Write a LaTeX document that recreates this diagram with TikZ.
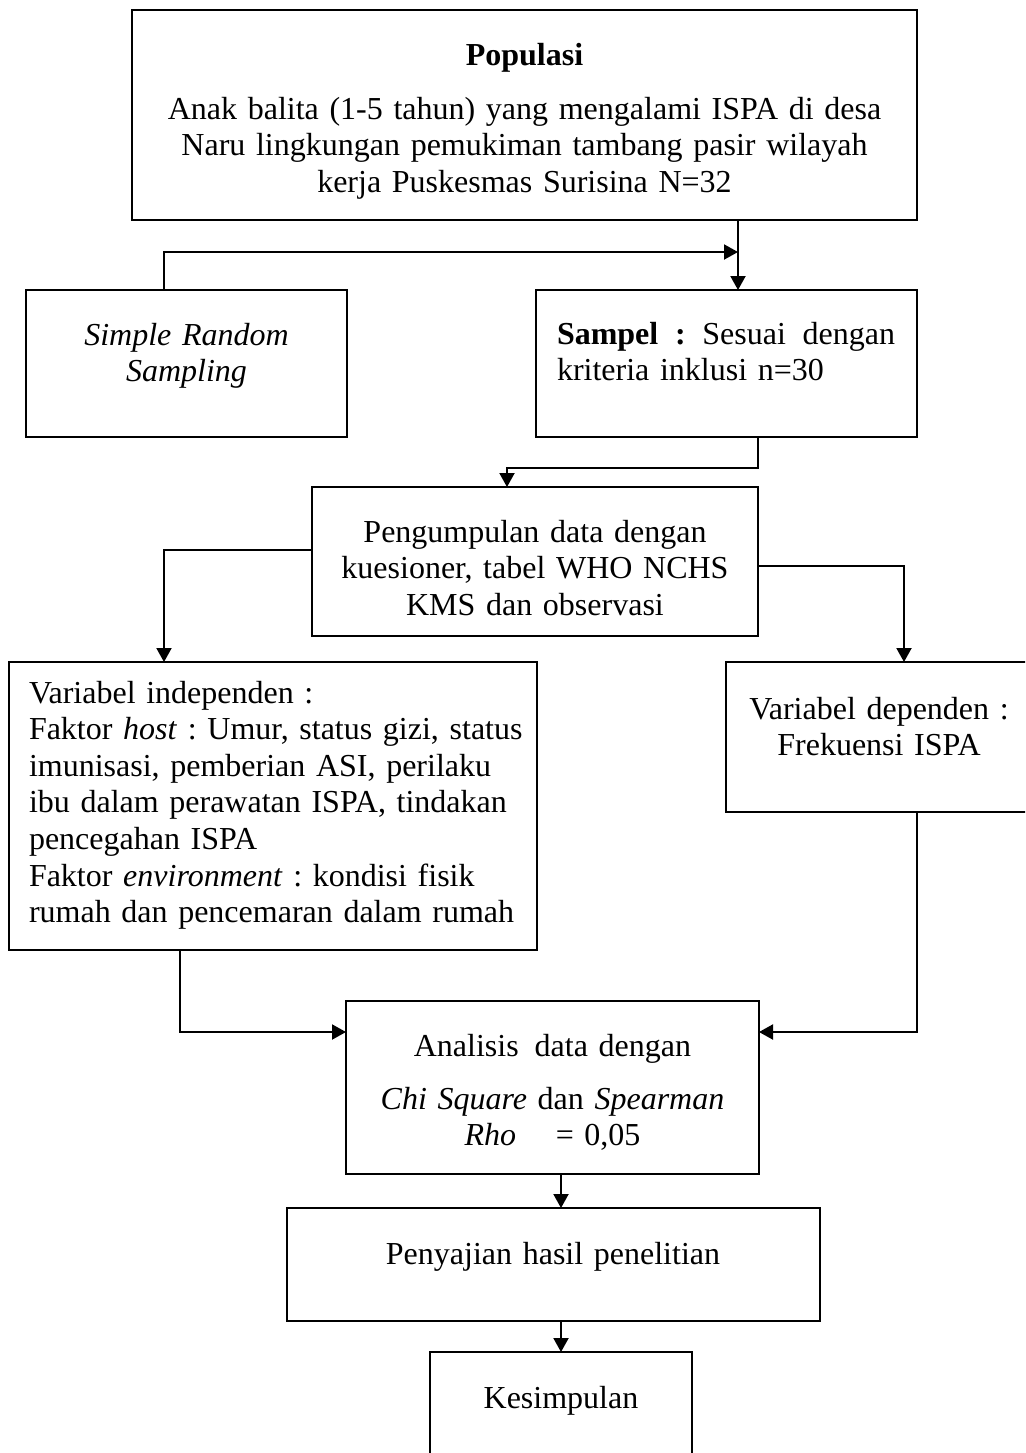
\documentclass[tikz,border=0pt]{standalone}
\usepackage{fontspec}
\setmainfont{Liberation Serif}
\usetikzlibrary{arrows.meta}
\frenchspacing
\newcommand\narrowspaces{\spaceskip=2.75pt plus 1.5pt minus 0.8pt\relax}
\newcommand\boxfont{\fontsize{16pt}{18.3pt}\selectfont\narrowspaces}
\begin{document}
\begin{tikzpicture}[x=0.5pt,y=-0.5pt,
  box/.style={draw,line width=1pt,inner sep=0pt,outer sep=0pt},
  txt/.style={inner sep=0pt,outer sep=0pt,anchor=base,font=\boxfont},
  conn/.style={line width=1pt},
  arr/.style={conn,-{Triangle[width=7.5pt,length=7pt]}}]
\useasboundingbox (0,0) rectangle (1025,1453);
\clip (0,0) rectangle (1025,1453);

% boxes
\node[box,minimum width=392.5pt,minimum height=105pt] (pop) at (524.5,115) {};
\node[box,minimum width=160.5pt,minimum height=73.5pt] (srs) at (186.5,363.5) {};
\node[box,minimum width=190.5pt,minimum height=73.5pt] (sam) at (726.5,363.5) {};
\node[box,minimum width=223pt,minimum height=74.5pt] (peng) at (535,561.5) {};
\node[box,minimum width=264pt,minimum height=144pt] (vi) at (273,806) {};
\node[box,minimum width=153pt,minimum height=75pt] (vd) at (879,737) {};
\node[box,minimum width=206.5pt,minimum height=86.5pt] (ana) at (552.5,1087.5) {};
\node[box,minimum width=266.5pt,minimum height=56.5pt] (pen) at (553.5,1264.5) {};
\node[box,minimum width=131pt,minimum height=69pt] (kes) at (561,1421) {};

% texts
\node[txt,text width=380pt,align=center] (popT) at (524.5,65)
  {\textbf{Populasi}\\[8.7pt]
   Anak balita (1-5 tahun) yang mengalami ISPA di desa\\
   Naru lingkungan pemukiman tambang pasir wilayah\\
   kerja Puskesmas Surisina N=32};
\node[txt,text width=150pt,align=center] (srsT) at (186.5,345)
  {\textit{Simple Random}\\ \textit{Sampling}};
\node[txt,text width=169pt,align=left,anchor=base west] (samT) at (557,344)
  {\makebox[169pt][s]{\textbf{Sampel}\hfil\textbf{:}\hfil Sesuai\hfil dengan}\\
   kriteria inklusi n=30};
\node[txt,text width=215pt,align=center] (pengT) at (535,542)
  {Pengumpulan data dengan\\ kuesioner, tabel WHO NCHS\\ KMS dan observasi};
\node[txt,text width=252pt,align=left,anchor=base west] (viT) at (29,703)
  {Variabel independen :\\
   Faktor \textit{host} : Umur, status gizi, status\\
   imunisasi, pemberian ASI, perilaku\\
   ibu dalam perawatan ISPA, tindakan\\
   pencegahan ISPA\\
   Faktor \textit{environment} : kondisi fisik\\
   rumah dan pencemaran dalam rumah};
\node[txt,text width=150pt,align=center] (vdT) at (879,719)
  {Variabel dependen :\\ Frekuensi ISPA};
\node[txt,text width=200pt,align=center] (anaT) at (552.5,1056)
  {Analisis\hspace{8pt}data dengan\\[8.2pt]
   \textit{Chi Square} dan \textit{Spearman}\\
   \textit{Rho}\hspace{14.5pt} = 0,05};
\node[txt,text width=260pt,align=center] (penT) at (553,1264)
  {Penyajian hasil penelitian};
\node[txt,text width=125pt,align=center] (kesT) at (561,1408)
  {Kesimpulan};

% helper coordinates
\coordinate (xsrs) at (164,0);
\coordinate (j1) at (738,252);
\coordinate (csam) at (758,468);
\coordinate (xpn) at (507,0);
\coordinate (ypl) at (0,550);
\coordinate (ypr) at (0,566);
\coordinate (xvd) at (904,0);
\coordinate (cvi) at (180,1032);
\coordinate (xvd2) at (917,0);
\coordinate (xmid) at (561,0);

% connectors
\draw[arr] (srs.north -| xsrs) |- (j1);
\draw[arr] (pop.south -| j1) -- (sam.north -| j1);
\draw[arr] (sam.south -| csam) -- (csam) -| (peng.north -| xpn);
\draw[arr] (peng.west |- ypl) -| (vi.north -| xsrs);
\draw[arr] (peng.east |- ypr) -| (vd.north -| xvd);
\draw[arr] (vi.south -| cvi) |- (ana.west |- cvi);
\draw[arr] (vd.south -| xvd2) |- (ana.east |- cvi);
\draw[arr] (ana.south -| xmid) -- (pen.north -| xmid);
\draw[arr] (pen.south -| xmid) -- (kes.north -| xmid);
\end{tikzpicture}
\end{document}
